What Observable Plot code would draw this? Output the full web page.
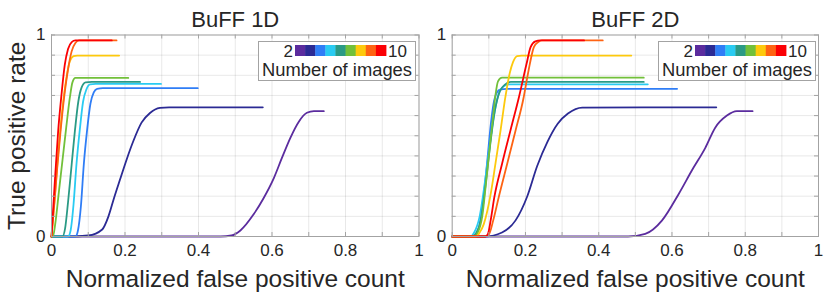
<!DOCTYPE html>
<html>
<head>
<meta charset="utf-8">
<script src="https://cdn.jsdelivr.net/npm/d3@7"></script>
<script src="https://cdn.jsdelivr.net/npm/@observablehq/plot@0.6"></script>
<style>
  html, body { margin: 0; padding: 0; background: #fff; }
  #wrap { position: relative; width: 831px; height: 297px; overflow: hidden; font-family: "Liberation Sans", Arial, sans-serif; color: #262626; }
  #wrap svg { overflow: visible; }
  .panel { position: absolute; top: 0; }
  .legend { position: absolute; }
</style>
</head>
<body>
<div id="wrap"></div>
<script>
// ---- data ----
const nImages = [2, 3, 4, 5, 6, 7, 8, 9, 10];
const colors = ["#5b2c9e", "#2b2a94", "#2f7df6", "#29cbf2", "#2a9a85", "#72c03a", "#fdc90d", "#fe6313", "#fb0004"];
const panelTitles = ["BuFF 1D", "BuFF 2D"];
const xLabel = "Normalized false positive count";
const yLabel = "True positive rate";
const legendTitle = "Number of images";
const xTickLabels = [0, 0.2, 0.4, 0.6, 0.8, 1];
const yTickLabels = [0, 1];
const gridTicks = [0, 0.1, 0.2, 0.3, 0.4, 0.5, 0.6, 0.7, 0.8, 0.9, 1];

// BuFF 1D curves: [normalized false positive count, true positive rate]
const b1_n2 = [[0,0],[0.46,0],[0.49,0.005],[0.514,0.03],[0.55,0.11],[0.577,0.19],[0.605,0.29],[0.627,0.39],[0.65,0.49],[0.673,0.57],[0.695,0.614],[0.714,0.622],[0.741,0.622]];
const b1_n3 = [[0,0],[0.05,0],[0.1,0.005],[0.138,0.035],[0.155,0.1],[0.17,0.19],[0.186,0.28],[0.205,0.385],[0.223,0.475],[0.245,0.565],[0.268,0.613],[0.295,0.638],[0.32,0.641],[0.575,0.641]];
const b1_n4 = [[0,0],[0.065,0],[0.072,0.03],[0.08,0.15],[0.088,0.36],[0.097,0.53],[0.106,0.66],[0.115,0.715],[0.124,0.733],[0.14,0.736],[0.398,0.736]];
const b1_n5 = [[0,0],[0.045,0],[0.052,0.03],[0.06,0.16],[0.068,0.36],[0.077,0.53],[0.086,0.67],[0.095,0.73],[0.105,0.755],[0.12,0.757],[0.298,0.757]];
const b1_n6 = [[0,0],[0.03,0],[0.037,0.04],[0.045,0.17],[0.055,0.36],[0.064,0.53],[0.073,0.67],[0.082,0.74],[0.093,0.765],[0.11,0.767],[0.241,0.767]];
const b1_n7 = [[0,0],[0.004,0],[0.01,0.06],[0.02,0.22],[0.03,0.38],[0.04,0.54],[0.05,0.69],[0.057,0.765],[0.065,0.787],[0.209,0.787]];
const b1_n8 = [[0,0],[0.01,0.22],[0.02,0.45],[0.03,0.64],[0.04,0.78],[0.05,0.87],[0.06,0.895],[0.07,0.898],[0.184,0.898]];
const b1_n9 = [[0,0],[0.008,0.17],[0.016,0.35],[0.025,0.53],[0.035,0.7],[0.045,0.83],[0.055,0.92],[0.065,0.96],[0.075,0.973],[0.177,0.973]];
const b1_n10 = [[0,0],[0.005,0.15],[0.01,0.3],[0.018,0.52],[0.027,0.7],[0.036,0.85],[0.045,0.93],[0.055,0.965],[0.065,0.973],[0.164,0.973]];

// BuFF 2D curves
const b2_n2 = [[0,0],[0.48,0],[0.527,0.013],[0.573,0.08],[0.618,0.21],[0.655,0.33],[0.691,0.44],[0.718,0.54],[0.75,0.6],[0.777,0.622],[0.82,0.622]];
const b2_n3 = [[0,0],[0.09,0],[0.136,0.02],[0.173,0.08],[0.205,0.2],[0.232,0.35],[0.26,0.47],[0.288,0.56],[0.316,0.61],[0.355,0.64],[0.721,0.641]];
const b2_n4 = [[0,0],[0.055,0],[0.064,0.01],[0.075,0.06],[0.086,0.2],[0.095,0.36],[0.105,0.55],[0.113,0.66],[0.122,0.715],[0.132,0.73],[0.15,0.733],[0.614,0.733]];
const b2_n5 = [[0,0],[0.05,0],[0.06,0.02],[0.075,0.1],[0.09,0.28],[0.1,0.42],[0.114,0.6],[0.127,0.71],[0.14,0.745],[0.155,0.755],[0.534,0.755]];
const b2_n6 = [[0,0],[0.055,0],[0.065,0.015],[0.078,0.08],[0.092,0.27],[0.104,0.46],[0.116,0.62],[0.13,0.72],[0.145,0.755],[0.16,0.767],[0.523,0.767]];
const b2_n7 = [[0,0],[0.06,0],[0.07,0.02],[0.082,0.1],[0.092,0.26],[0.1,0.4],[0.109,0.55],[0.118,0.7],[0.125,0.77],[0.136,0.788],[0.523,0.788]];
const b2_n8 = [[0,0],[0.065,0],[0.075,0.02],[0.086,0.06],[0.095,0.12],[0.104,0.2],[0.118,0.36],[0.132,0.526],[0.145,0.69],[0.157,0.81],[0.166,0.865],[0.177,0.895],[0.19,0.898],[0.489,0.898]];
const b2_n9 = [[0,0],[0.085,0],[0.1,0.01],[0.112,0.08],[0.127,0.195],[0.15,0.36],[0.173,0.526],[0.195,0.69],[0.203,0.77],[0.212,0.857],[0.223,0.94],[0.235,0.965],[0.245,0.973],[0.411,0.973]];
const b2_n10 = [[0,0],[0.09,0],[0.097,0.01],[0.105,0.08],[0.115,0.195],[0.136,0.36],[0.159,0.526],[0.182,0.69],[0.203,0.857],[0.214,0.94],[0.227,0.968],[0.241,0.973],[0.36,0.973]];

const series1D = [b1_n2, b1_n3, b1_n4, b1_n5, b1_n6, b1_n7, b1_n8, b1_n9, b1_n10];
const series2D = [b2_n2, b2_n3, b2_n4, b2_n5, b2_n6, b2_n7, b2_n8, b2_n9, b2_n10];

// ---- drawing ----
const FONT = "'Liberation Sans', Arial, sans-serif";
const TEXT = "#262626";
const FRAME = "#a3a3a3";
const panels = [
  {title: panelTitles[0], series: series1D, left: 0, width: 424, mL: 51, mR: 5.5, yLab: true},
  {title: panelTitles[1], series: series2D, left: 424, width: 407, mL: 27.7, mR: 13, yLab: false}
];
const mT = 34.5, mB = 61, H = 297;
const wrap = document.getElementById("wrap");

panels.forEach((p) => {
  const rows = p.series.flatMap((pts, i) => pts.map(([x, y]) => ({x, y, n: nImages[i]})));
  const innerW = p.width - p.mL - p.mR, innerH = H - mT - mB;
  const tx = 4 / innerW, ty = 4 / innerH;
  const fmt = (d) => String(+d.toFixed(1));
  const marks = [
    Plot.gridX(gridTicks, {stroke: "#000", strokeOpacity: 0.09}),
    Plot.gridY(gridTicks, {stroke: "#000", strokeOpacity: 0.09}),
    Plot.line(rows, {x: "x", y: "y", z: "n", stroke: "n", curve: "monotone-x", strokeWidth: 1.8}),
    Plot.ruleX(gridTicks, {x: (d) => d, y1: 0, y2: ty, stroke: FRAME}),
    Plot.ruleX(gridTicks, {x: (d) => d, y1: 1 - ty, y2: 1, stroke: FRAME}),
    Plot.ruleY(gridTicks, {y: (d) => d, x1: 0, x2: tx, stroke: FRAME}),
    Plot.ruleY(gridTicks, {y: (d) => d, x1: 1 - tx, x2: 1, stroke: FRAME}),
    Plot.frame({stroke: FRAME}),
    Plot.axisX({ticks: xTickLabels, tickSize: 0, tickPadding: 7, fontSize: 17, tickFormat: fmt, label: null, fill: TEXT}),
    Plot.axisY({ticks: yTickLabels, tickSize: 0, tickPadding: 6, fontSize: 17, tickFormat: fmt, label: null, fill: TEXT}),
    Plot.text([p.title], {frameAnchor: "top", dy: -15, lineAnchor: "middle", textAnchor: "middle", fontSize: 22, fill: TEXT, text: (d) => d}),
    Plot.text([xLabel], {frameAnchor: "bottom", dy: 43, lineAnchor: "middle", textAnchor: "middle", fontSize: 24.5, fill: TEXT, text: (d) => d})
  ];
  if (p.yLab) marks.push(Plot.text([yLabel], {frameAnchor: "left", dx: -34, rotate: -90, lineAnchor: "middle", textAnchor: "middle", fontSize: 24.5, fill: TEXT, text: (d) => d}));
  const chart = Plot.plot({
    width: p.width, height: H,
    marginLeft: p.mL, marginRight: p.mR, marginTop: mT, marginBottom: mB,
    x: {domain: [0, 1], axis: null},
    y: {domain: [0, 1], axis: null},
    color: {type: "ordinal", domain: nImages, range: colors},
    style: {fontFamily: FONT, color: TEXT, background: "transparent", overflow: "visible"},
    marks
  });
  chart.classList.add("panel");
  chart.style.left = p.left + "px";
  wrap.appendChild(chart);

  // legend overlay (top-right inside the axes)
  const boxW = 157, boxH = 39;
  const boxLeft = p.left + p.width - p.mR - 3.5 - boxW;
  const boxTop = 41;
  const ns = "http://www.w3.org/2000/svg";
  const lg = document.createElementNS(ns, "svg");
  lg.setAttribute("width", boxW + 1);
  lg.setAttribute("height", boxH + 1);
  lg.setAttribute("class", "legend");
  lg.style.left = boxLeft + "px";
  lg.style.top = boxTop + "px";
  const rect = document.createElementNS(ns, "rect");
  Object.entries({x: 0.5, y: 0.5, width: boxW, height: boxH, fill: "#fff", stroke: FRAME}).forEach(([k, v]) => rect.setAttribute(k, v));
  lg.appendChild(rect);
  const barX = 37, barW = 91, barY = 4, barH = 11, segW = barW / colors.length;
  colors.forEach((c, i) => {
    const r = document.createElementNS(ns, "rect");
    Object.entries({x: barX + i * segW, y: barY, width: segW + 0.4, height: barH, fill: c}).forEach(([k, v]) => r.setAttribute(k, v));
    lg.appendChild(r);
  });
  const mkText = (str, attrs) => {
    const t = document.createElementNS(ns, "text");
    Object.entries(attrs).forEach(([k, v]) => t.setAttribute(k, v));
    t.setAttribute("font-family", FONT);
    t.setAttribute("fill", TEXT);
    t.textContent = str;
    lg.appendChild(t);
  };
  mkText(String(nImages[0]), {x: barX - 2, y: 15.5, "text-anchor": "end", "font-size": 17});
  mkText(String(nImages[nImages.length - 1]), {x: barX + barW + 2, y: 15.5, "text-anchor": "start", "font-size": 17});
  mkText(legendTitle, {x: boxW / 2 + 0.5, y: 34.5, "text-anchor": "middle", "font-size": 17.5, textLength: 150, lengthAdjust: "spacingAndGlyphs"});
  wrap.appendChild(lg);
});
</script>
</body>
</html>
